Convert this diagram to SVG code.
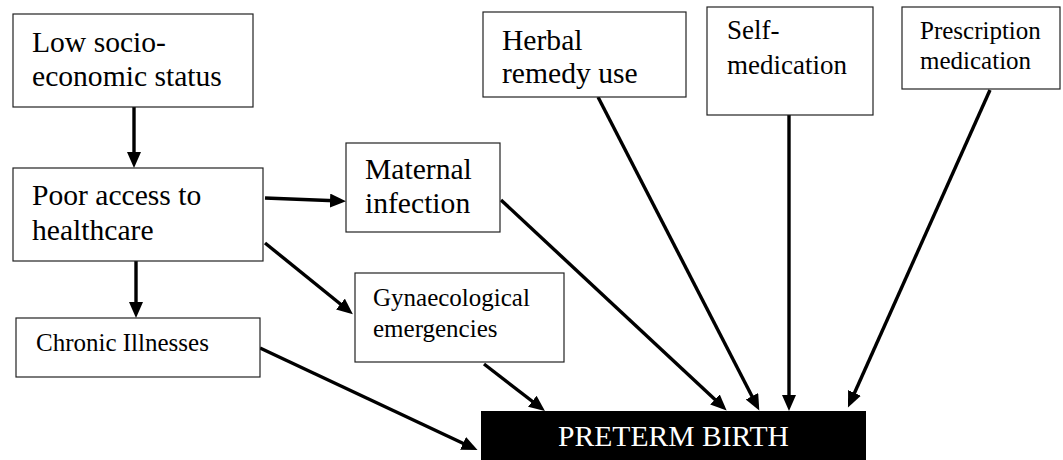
<svg xmlns="http://www.w3.org/2000/svg" width="1063" height="460" viewBox="0 0 1063 460">
<style>
.box{fill:#fff;stroke:#222;stroke-width:1.2}
.L{font-size:29.6px}
.S{font-size:25px}
.M{font-size:27px}
.c{stroke:#000;stroke-width:3.4;fill:none;marker-end:url(#ah)}
</style>
<defs>
<marker id="ah" markerUnits="userSpaceOnUse" markerWidth="18" markerHeight="16" refX="11" refY="7" orient="auto">
<path d="M0,0 L16,7 L0,14 z" fill="#000"/>
</marker>
</defs>
<rect width="1063" height="460" fill="#fff"/>
<g id="connectors">
<line class="c" x1="134" y1="107" x2="134" y2="163"/>
<line class="c" x1="136" y1="261" x2="136" y2="313"/>
<line class="c" x1="265" y1="198" x2="341" y2="201"/>
<line class="c" x1="265" y1="243" x2="349" y2="311"/>
<line class="c" x1="260" y1="348" x2="473" y2="448"/>
<line class="c" x1="484" y1="364" x2="541" y2="408"/>
<line class="c" x1="501" y1="200" x2="723" y2="407"/>
<line class="c" x1="598" y1="97" x2="757" y2="406"/>
<line class="c" x1="789" y1="115" x2="789" y2="406"/>
<line class="c" x1="990" y1="90" x2="850" y2="403"/>
</g>
<g font-family="Liberation Serif, Times New Roman, serif" fill="#000">
<g id="n-lowses">
<rect class="box" x="13" y="14" width="240" height="93"/>
<text class="L" x="32" y="52">Low socio-</text>
<text class="L" x="32" y="86">economic status</text>
</g>
<g id="n-access">
<rect class="box" x="13" y="168" width="250" height="93"/>
<text class="L" x="32" y="205">Poor access to</text>
<text class="L" x="32" y="240">healthcare</text>
</g>
<g id="n-chronic">
<rect class="box" x="16" y="318" width="244" height="59"/>
<text class="S" x="36" y="351">Chronic Illnesses</text>
</g>
<g id="n-maternal">
<rect class="box" x="346" y="143" width="154" height="89"/>
<text class="L" x="365" y="179">Maternal</text>
<text class="L" x="365" y="213">infection</text>
</g>
<g id="n-gynae">
<rect class="box" x="355" y="273" width="209" height="89"/>
<text class="S" x="373" y="306">Gynaecological</text>
<text class="S" x="373" y="337">emergencies</text>
</g>
<g id="n-herbal">
<rect class="box" x="483" y="12" width="203" height="85"/>
<text class="L" x="502" y="50">Herbal</text>
<text class="L" x="502" y="83">remedy use</text>
</g>
<g id="n-selfmed">
<rect class="box" x="707" y="7" width="166" height="108"/>
<text class="M" x="727" y="39">Self-</text>
<text class="M" x="727" y="74">medication</text>
</g>
<g id="n-prescription">
<rect class="box" x="902" y="7" width="158" height="82"/>
<text class="S" x="920" y="39">Prescription</text>
<text class="S" x="920" y="69">medication</text>
</g>
<g id="n-preterm">
<rect x="481" y="411" width="385" height="49" fill="#000"/>
<text class="L" x="673.5" y="446" text-anchor="middle" fill="#fff">PRETERM BIRTH</text>
</g>
</g>
</svg>
